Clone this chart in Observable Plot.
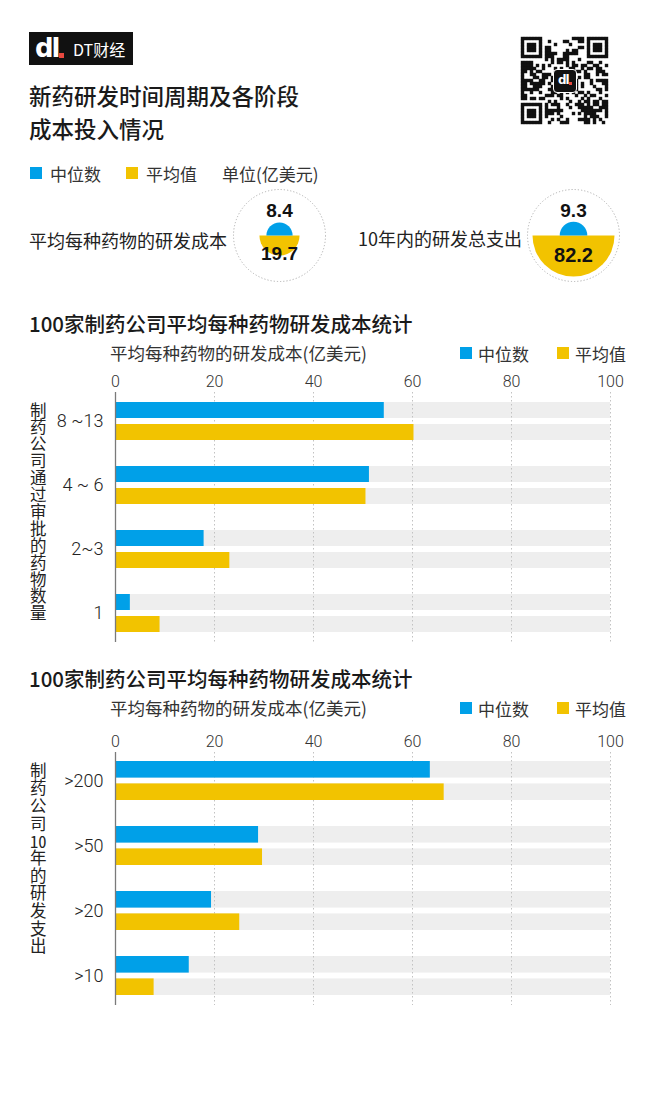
<!DOCTYPE html>
<html><head><meta charset="utf-8">
<script src="https://cdn.jsdelivr.net/npm/d3@7"></script>
<script src="https://cdn.jsdelivr.net/npm/@observablehq/plot@0.6"></script>
<style>
body{margin:0;background:#fff;}
#page{position:relative;width:650px;height:1095px;overflow:hidden;font-family:"Noto Sans CJK SC","Noto Sans",sans-serif;color:#222;background:#fff;}
.abs{position:absolute;white-space:nowrap;}
.sq{position:absolute;width:12px;height:12px;}
.vert{position:absolute;writing-mode:vertical-rl;text-orientation:upright;white-space:nowrap;color:#222;}
.tcy{text-combine-upright:all;}
</style></head><body><div id="page"></div>
<script>
// ---------- data ----------
const seriesNames = ["中位数", "平均值"];
const seriesColors = ["#00a0e8", "#f2c300"];
const summaryLabels = ["平均每种药物的研发成本", "10年内的研发总支出"];
const summaryMedian = [8.4, 9.3];
const summaryMean = [19.7, 82.2];

const approvedCats = ["8 ~13", "4 ~ 6", "2~3", "1"];
const approvedMedian = [54.3, 51.3, 17.9, 3.0];
const approvedMean = [60.3, 50.6, 23.1, 9.0];

const spendCats = [">200", ">50", ">20", ">10"];
const spendMedian = [63.6, 28.9, 19.4, 14.9];
const spendMean = [66.4, 29.7, 25.1, 7.8];

const xTicks = [0, 20, 40, 60, 80, 100];

// ---------- helpers ----------
const page = document.getElementById("page");
function addText(txt, x, yc, size, o = {}) {
  const d = document.createElement("div");
  d.className = "abs";
  d.textContent = txt;
  d.style.fontSize = size + "px";
  d.style.lineHeight = size + "px";
  d.style.top = (yc - size / 2) + "px";
  if (o.right) { d.style.right = (650 - x) + "px"; } else { d.style.left = x + "px"; }
  if (o.weight) d.style.fontWeight = o.weight;
  d.style.color = o.color || "#222";
  if (o.family) d.style.fontFamily = o.family;
  page.appendChild(d);
  return d;
}
function addSquare(x, yc, color) {
  const s = document.createElement("div");
  s.className = "sq";
  s.style.left = x + "px";
  s.style.top = (yc - 6) + "px";
  s.style.background = color;
  page.appendChild(s);
}
function place(node, x, y) {
  node.style.position = "absolute";
  node.style.left = x + "px";
  node.style.top = y + "px";
  page.appendChild(node);
}
function addVertical(html, xc, top, size, spacing) {
  const d = document.createElement("div");
  d.className = "vert";
  d.style.left = (xc - size / 2) + "px";
  d.style.top = top + "px";
  d.style.fontSize = size + "px";
  d.style.lineHeight = size + "px";
  d.style.letterSpacing = spacing + "px";
  d.innerHTML = html;
  page.appendChild(d);
}

// ---------- header ----------
const logo = document.createElement("div");
logo.style.cssText = "position:absolute;left:29px;top:32px;width:104px;height:33px;background:#111;";
logo.innerHTML = '<div style="position:absolute;left:6px;top:1px;font:900 26px/30px \'DejaVu Sans\',sans-serif;color:#fff;letter-spacing:-2px;">dl</div>' +
  '<div style="position:absolute;left:30px;top:21px;width:5px;height:5px;background:#e8483f;"></div>' +
  '<div style="position:absolute;left:44px;top:7px;font:16px/20px \'Noto Sans CJK SC\',sans-serif;color:#fff;">DT财经</div>';
page.appendChild(logo);

addText("新药研发时间周期及各阶段", 29, 95, 22.5, {weight: 500, color: "#1a1a1a"});
addText("成本投入情况", 29, 128, 22.5, {weight: 500, color: "#1a1a1a"});

// decorative QR code
(function () {
  const n = 29, cells = [];
  for (let i = 0; i < n; i++) for (let j = 0; j < n; j++) {
    let on;
    const fi = i < 8 && j < 8 ? [i, j] : i < 8 && j >= n - 8 ? [i, j - (n - 7)] : i >= n - 8 && j < 8 ? [i - (n - 7), j] : null;
    if (fi) {
      const [a, b] = fi;
      on = a >= 0 && b >= 0 && a <= 6 && b <= 6 && (a === 0 || a === 6 || b === 0 || b === 6 || (a >= 2 && a <= 4 && b >= 2 && b <= 4));
    } else if (i >= 11 && i <= 17 && j >= 11 && j <= 17) on = false;
    else {
      const h = ((i * 73856093) ^ (j * 19349663) ^ (i * j * 83492791)) >>> 0;
      on = (h % 97) < 48;
    }
    if (on) cells.push({i, j});
  }
  const qr = Plot.plot({
    width: 98, height: 96, margin: 0,
    x: {type: "band", domain: d3.range(n), padding: 0, axis: null},
    y: {type: "band", domain: d3.range(n), padding: 0, axis: null},
    marks: [Plot.cell(cells, {x: "j", y: "i", fill: "#111", inset: -0.2})]
  });
  place(qr, 515, 32);
  const c = document.createElement("div");
  c.style.cssText = "position:absolute;left:553px;top:69px;width:22px;height:22px;background:#111;border-radius:4px;border:1px solid #fff;";
  c.innerHTML = '<div style="position:absolute;left:4px;top:2px;font:900 12px/16px \'DejaVu Sans\',sans-serif;color:#fff;letter-spacing:-1px;">dl</div><div style="position:absolute;left:15px;top:12px;width:3px;height:3px;background:#e8483f;"></div>';
  page.appendChild(c);
})();

// ---------- top legend ----------
addSquare(30, 173, seriesColors[0]);
addText(seriesNames[0], 50, 173, 17, {color: "#333"});
addSquare(126, 173, seriesColors[1]);
addText(seriesNames[1], 146, 173, 17, {color: "#333"});
addText("单位(亿美元)", 222, 173, 17, {color: "#333"});

// ---------- summary circles ----------
const upperHalf = {draw(ctx, size) { const r = Math.sqrt(size / Math.PI); ctx.moveTo(r, 0); ctx.arc(0, 0, r, 0, Math.PI, true); ctx.closePath(); }};
const lowerHalf = {draw(ctx, size) { const r = Math.sqrt(size / Math.PI); ctx.moveTo(r, 0); ctx.arc(0, 0, r, 0, Math.PI, false); ctx.closePath(); }};
function circlePlot(k) {
  const med = [{v: summaryMedian[k]}], mean = [{v: summaryMean[k]}];
  const numFont = {fontFamily: "'Liberation Sans Narrow','Liberation Sans',sans-serif", fontWeight: "bold", fill: "#111"};
  return Plot.plot({
    width: 100, height: 100, margin: 0,
    r: {domain: [0, d3.max(summaryMean)], range: [0, 41]},
    marks: [
      Plot.dot([0], {frameAnchor: "middle", r: 46, stroke: "#b0b0b0", strokeDasharray: "1.2,2", fill: "none", strokeWidth: 1}),
      Plot.dot(mean, {frameAnchor: "middle", r: "v", symbol: lowerHalf, fill: seriesColors[1], stroke: "none"}),
      Plot.dot(med, {frameAnchor: "middle", r: "v", symbol: upperHalf, fill: seriesColors[0], stroke: "none"}),
      Plot.text(med, {frameAnchor: "middle", text: d => d.v.toFixed(1), dy: -25, fontSize: 19, ...numFont}),
      Plot.text(mean, {frameAnchor: "middle", text: d => d.v.toFixed(1), dy: k === 0 ? 18 : 20, fontSize: k === 0 ? 19 : 20, ...numFont})
    ]
  });
}
addText(summaryLabels[0], 29, 240, 18, {color: "#222"});
place(circlePlot(0), 229, 185);
addText(summaryLabels[1], 358, 238, 18, {color: "#222"});
place(circlePlot(1), 523, 185);

// ---------- bar charts ----------
function barChart(cats, med, mean, o) {
  const full = xTicks[xTicks.length - 1];
  const rows = cats.map((c, i) => ({cat: c, med: med[i], mean: mean[i], full}));
  return Plot.plot({
    width: 650, height: o.height,
    marginTop: 22, marginBottom: 5, marginLeft: 115, marginRight: 40,
    style: {fontFamily: "Roboto, 'Liberation Sans', sans-serif", color: "#333", background: "transparent"},
    x: {domain: [0, full]},
    y: {type: "band", domain: cats, paddingInner: o.pi, paddingOuter: o.po},
    marks: [
      Plot.barX(rows, {y: "cat", x: "full", fill: "#eeeeee", insetTop: 3, insetBottom: o.ib}),
      Plot.barX(rows, {y: "cat", x: "full", fill: "#eeeeee", insetTop: o.ib, insetBottom: 3}),
      Plot.ruleX(xTicks.slice(1), {stroke: "#c2c2c2", strokeDasharray: "1.5,2.5"}),
      Plot.barX(rows, {y: "cat", x: "med", fill: seriesColors[0], insetTop: 3, insetBottom: o.ib}),
      Plot.barX(rows, {y: "cat", x: "mean", fill: seriesColors[1], insetTop: o.ib, insetBottom: 3}),
      Plot.ruleX([0], {stroke: "#7a7a7a", strokeWidth: 1.3}),
      Plot.axisX({anchor: "top", ticks: xTicks, tickSize: 0, tickPadding: 6, fontSize: 16, fontWeight: 300, label: null}),
      Plot.axisY({anchor: "left", tickSize: 0, tickPadding: 12, fontSize: 18, fontWeight: 300, fill: "#222", label: null})
    ]
  });
}

function chartHeader(title, yTitle) {
  addText(title, 29, yTitle, 20.5, {weight: 500, color: "#1a1a1a"});
  const ya = yTitle + 30;
  addText("平均每种药物的研发成本(亿美元)", 110, ya, 17.5, {color: "#333"});
  addSquare(460, ya, seriesColors[0]);
  addText(seriesNames[0], 478, ya, 17, {color: "#333"});
  addSquare(557, ya, seriesColors[1]);
  addText(seriesNames[1], 575, ya, 17, {color: "#333"});
}

chartHeader("100家制药公司平均每种药物研发成本统计", 323);
place(barChart(approvedCats, approvedMedian, approvedMean, {height: 277, pi: 0.3077, po: 0.077, ib: 25}), 0, 370);
addVertical("制药公司通过审批的药物数量", 38, 402, 16.5, 0.4);

chartHeader("100家制药公司平均每种药物研发成本统计", 678);
place(barChart(spendCats, spendMedian, spendMean, {height: 280, pi: 0.303, po: 0.092, ib: 25.4}), 0, 730);
addVertical('制药公司<span class="tcy">10</span>年的研发支出', 38, 762, 16.5, 1.2);
</script>
</body></html>
